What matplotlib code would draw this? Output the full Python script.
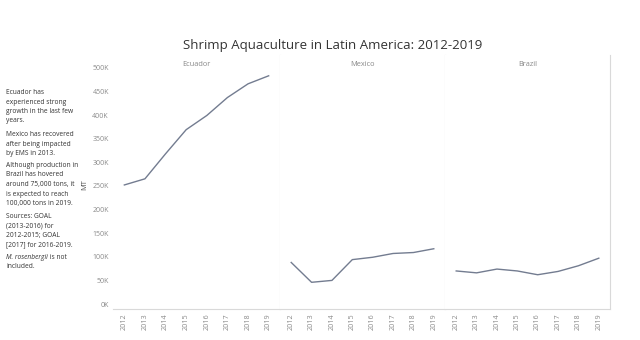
import matplotlib
matplotlib.use("Agg")
import matplotlib.pyplot as plt

years = ["2012", "2013", "2014", "2015", "2016", "2017", "2018", "2019"]
countries = ["Ecuador", "Mexico", "Brazil"]
ecuador = [252, 265, 318, 369, 399, 437, 466, 483]
mexico = [88, 46, 50, 94, 99, 107, 109, 117]
brazil = [70, 66, 74, 70, 62, 69, 81, 97]
series = [ecuador, mexico, brazil]
yticks = [0, 50, 100, 150, 200, 250, 300, 350, 400, 450, 500]
ytick_labels = ["0K", "50K", "100K", "150K", "200K", "250K", "300K", "350K", "400K", "450K", "500K"]

title = "Shrimp Aquaculture in Latin America: 2012-2019"
notes = [
    "Ecuador has\nexperienced strong\ngrowth in the last few\nyears.",
    "Mexico has recovered\nafter being impacted\nby EMS in 2013.",
    "Although production in\nBrazil has hovered\naround 75,000 tons, it\nis expected to reach\n100,000 tons in 2019.",
    "Sources: GOAL\n(2013-2016) for\n2012-2015; GOAL\n[2017] for 2016-2019.",
]

FONT = "Open Sans"
plt.rcParams["font.family"] = [FONT, "DejaVu Sans"]

W, H = 640, 340
fig = plt.figure(figsize=(W / 100, H / 100), dpi=100)

line_color = "#737c90"
tick_color = "#8a8a8a"
sep_color = "#d9d9d9"

left_px, right_px = 113, 610
top_px, bot_px = 55, 309
edges = [left_px, 280, 445, right_px]

for i, (name, vals) in enumerate(zip(countries, series)):
    x0, x1 = edges[i], edges[i + 1]
    ax = fig.add_axes([x0 / W, 1 - bot_px / H, (x1 - x0) / W, (bot_px - top_px) / H])
    ax.plot(range(len(years)), vals, color=line_color, lw=1.0)
    ax.set_xlim(-0.55, 7.55)
    ax.set_ylim(-10.5, 527)
    ax.set_xticks(range(len(years)))
    ax.set_xticklabels(years, rotation=90, fontsize=5.2, color=tick_color)
    ax.tick_params(axis="x", length=0, pad=3)
    for s in ["top", "left"]:
        ax.spines[s].set_visible(False)
    ax.spines["right"].set_color(sep_color)
    ax.spines["right"].set_linewidth(0.8)
    ax.spines["bottom"].set_color(sep_color)
    ax.spines["bottom"].set_linewidth(0.8)
    ax.text(0.5, 0.975, name, transform=ax.transAxes, ha="center", va="top",
            fontsize=5.3, color="#888888")
    if i == 0:
        ax.set_yticks(yticks)
        ax.set_yticklabels(ytick_labels, fontsize=5.0, color=tick_color)
        ax.tick_params(axis="y", length=0, pad=3)
        ax.set_ylabel("MT", fontsize=5.3, color="#555555")
        ax.yaxis.set_label_coords(-0.15, 0.49)
    else:
        ax.set_yticks([])

fig.text(333 / W, 1 - 45 / H, title, ha="center", va="center", fontsize=9.5, color="#333333")

FS = 4.75
note_tops = [89, 131, 162, 213]
for txt, yt in zip(notes, note_tops):
    fig.text(6 / W, 1 - yt / H, txt, ha="left", va="top", fontsize=FS,
             color="#333333", linespacing=1.5)

t1 = fig.text(6 / W, 1 - 254 / H, "M. rosenbergii", ha="left", va="top", fontsize=FS,
              color="#333333", style="italic")
plt.annotate(" is not", xy=(1, 1), xycoords=t1, ha="left", va="top", fontsize=FS,
             color="#333333", annotation_clip=False)
fig.text(6 / W, 1 - 263 / H, "included.", ha="left", va="top", fontsize=FS, color="#333333")

fig.savefig("out.png", dpi=100, facecolor="white")
